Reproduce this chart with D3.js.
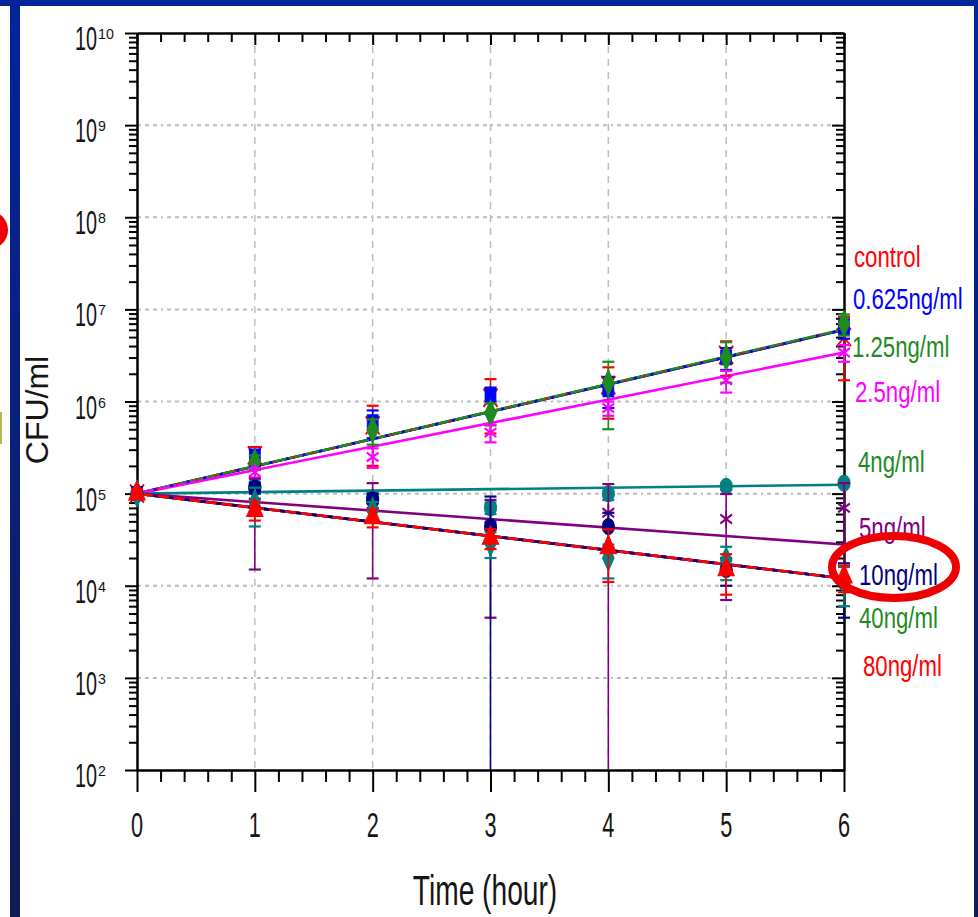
<!DOCTYPE html>
<html>
<head>
<meta charset="utf-8">
<title>CFU/ml vs time</title>
<script src="https://d3js.org/d3.v7.min.js"></script>
<style>
  body { margin: 0; background: #fff; }
  svg { display: block; }
  text { font-family: "Liberation Sans", Arial, sans-serif; fill: #151515; }
</style>
</head>
<body>
<svg id="chart" width="978" height="917"></svg>
<script>
// ---- data ----
var times = [0, 1, 2, 3, 4, 5, 6];
var xTicks = [0, 1, 2, 3, 4, 5, 6];
var yDecades = [2, 3, 4, 5, 6, 7, 8, 9, 10];

var seriesNames = ["control", "0.625ng/ml", "1.25ng/ml", "2.5ng/ml", "4ng/ml", "5ng/ml", "10ng/ml", "40ng/ml", "80ng/ml"];

var controlMean = [1e5, 2.6e5, 5.5e5, 1.1e6, 1.5e6, 3.2e6, 5.0e6];
var controlSd   = [1.2e4, 6e4, 3.5e5, 6.5e5, 8.5e5, 1.3e6, 3.3e6];
var c0625Mean   = [1e5, 2.5e5, 6.0e5, 1.2e6, 1.35e6, 3.0e6, 6.3e6];
var c0625Sd     = [1e4, 5e4, 2e5, 2e5, 5e5, 8e5, 1.5e6];
var c125Mean    = [1e5, 2.2e5, 4.9e5, 7.5e5, 1.6e6, 3.0e6, 7.0e6];
var c125Sd      = [1e4, 4e4, 1.5e5, 2e5, 1.1e6, 1.4e6, 1.8e6];
var c25Mean     = [1e5, 1.7e5, 2.5e5, 4.6e5, 8.5e5, 1.7e6, 3.4e6];
var c25Sd       = [1e4, 2e4, 6e4, 1e5, 1.5e5, 4.5e5, 7e5];
var c4Mean      = [1e5, 1.2e5, 9e4, 7e4, 1e5, 1.2e5, 1.3e5];
var c4Sd        = [1e4, 1.5e4, 1e4, 1e4, 1.5e4, 1e4, 1e4];
var c5Mean      = [1e5, 8e4, 7.1e4, 4.5e4, 6.2e4, 5.3e4, 7e4];
var c5Sd        = [1e4, 6.5e4, 5.9e4, 4.05e4, 6.5e4, 4.6e4, 6e4];
var c10Mean     = [1e5, 1.15e5, 8.5e4, 4.4e4, 4.4e4, 1.5e4, 1.1e4];
var c10Sd       = [1e4, 1.5e4, 1.5e4, 4.9e4, 1.8e4, 5e3, 6.5e3];
var c40Mean     = [1e5, 8e4, 6.6e4, 2.9e4, 2e4, 1.9e4, 1.1e4];
var c40Sd       = [1e4, 3.6e4, 1.5e4, 9e3, 8e3, 7.5e3, 5e3];
var c80Mean     = [1e5, 6.6e4, 5.5e4, 3.3e4, 2.6e4, 1.5e4, 1.25e4];
var c80Sd       = [1.2e4, 1.5e4, 1.2e4, 8e3, 1.5e4, 7e3, 4e3];

// fitted exponential lines: start at t=0, end at t=6
var fitStart = [1e5, 1e5, 1e5, 1e5, 1e5, 1e5, 1e5, 1e5, 1e5];
var fitEnd   = [6.0e6, 6.0e6, 6.1e6, 3.4e6, 1.25e5, 2.8e4, 1.2e4, 1.2e4, 1.2e4];

// ---- styles ----
var lineColors  = ["#ff0000", "#0000ff", "#1f8a1f", "#ff00ff", "#008080", "#800080", "#000080", "#008080", "#ff0000"];
var labelColors = ["#ff0000", "#0000ff", "#1f8a1f", "#ff00ff", "#1f8a1f", "#800080", "#000080", "#1f8a1f", "#ff0000"];
var markerTypes = [d3.symbolTimes, d3.symbolSquare, d3.symbolDiamond, d3.symbolAsterisk, d3.symbolCircle,
                   d3.symbolAsterisk, d3.symbolCircle, d3.symbolDiamond, d3.symbolTriangle];
var markerStroked = [true, false, false, true, false, true, false, false, false];
var lineDash = ["2,18", "3,14", null, null, null, null, "5,11", null, null];
var legendPos = [[854, 267], [853, 309], [852, 357], [855, 402], [858, 472], [859, 538], [859, 585], [859, 628], [863, 676]];

var means = [controlMean, c0625Mean, c125Mean, c25Mean, c4Mean, c5Mean, c10Mean, c40Mean, c80Mean];
var sds   = [controlSd, c0625Sd, c125Sd, c25Sd, c4Sd, c5Sd, c10Sd, c40Sd, c80Sd];

var series = seriesNames.map(function (name, i) {
  return {
    name: name, i: i,
    points: times.map(function (t, j) { return { t: t, m: means[i][j], s: sds[i][j] }; }),
    fit: [[0, fitStart[i]], [6, fitEnd[i]]]
  };
});

var svg = d3.select("#chart");

// ---- slide frame ----
var defs = svg.append("defs");
var grad = defs.append("linearGradient").attr("id", "bar").attr("x1", 0).attr("y1", 0).attr("x2", 0).attr("y2", 1);
grad.append("stop").attr("offset", "0%").attr("stop-color", "#02249c");
grad.append("stop").attr("offset", "100%").attr("stop-color", "#111c55");
svg.append("rect").attr("x", 0).attr("y", 0).attr("width", 978).attr("height", 917).attr("fill", "#fff");
svg.append("rect").attr("x", 0).attr("y", 0).attr("width", 978).attr("height", 6).attr("fill", "#02249c");
svg.append("rect").attr("x", 10).attr("y", 0).attr("width", 10).attr("height", 917).attr("fill", "url(#bar)");
svg.append("rect").attr("x", 974).attr("y", 0).attr("width", 4).attr("height", 917).attr("fill", "url(#bar)");
svg.append("circle").attr("cx", -11).attr("cy", 230).attr("r", 19).attr("fill", "#ee0000");
svg.append("rect").attr("x", 0).attr("y", 412).attr("width", 2).attr("height", 32).attr("fill", "#b9b650");

// ---- scales ----
var x = d3.scaleLinear().domain([0, 6]).range([137, 844]);
var y = d3.scaleLog().domain([1e2, 1e10]).range([770, 33]);

var decades = yDecades.map(function (p) { return Math.pow(10, p); });
var minorY = [];
yDecades.slice(0, -1).forEach(function (p) {
  for (var k = 2; k <= 9; k++) minorY.push(k * Math.pow(10, p));
});
var minorX = d3.range(0, 6.001, 0.2).map(function (v) { return +v.toFixed(1); })
  .filter(function (v) { return xTicks.indexOf(v) < 0; });

// ---- grid ----
svg.append("g").selectAll("line").data(decades.slice(1, -1)).join("line")
  .attr("x1", x(0)).attr("x2", x(6)).attr("y1", function (d) { return y(d); }).attr("y2", function (d) { return y(d); })
  .attr("stroke", "#bdbdbd").attr("stroke-width", 2).attr("stroke-dasharray", "4,4,4,4,4,4,2,4");
svg.append("g").selectAll("line").data(xTicks.slice(1, -1)).join("line")
  .attr("x1", function (d) { return x(d); }).attr("x2", function (d) { return x(d); })
  .attr("y1", y(1e10)).attr("y2", y(1e2))
  .attr("stroke", "#bdbdbd").attr("stroke-width", 1.5).attr("stroke-dasharray", "7,6");

// ---- axes ----
function styleAxis(g) {
  g.selectAll("text").remove();
  g.select(".domain").attr("stroke", "#000").attr("stroke-width", 2);
  g.selectAll(".tick line").attr("stroke", "#000").attr("stroke-width", 2);
}
svg.append("g").attr("transform", "translate(" + x(0) + ",0)")
  .call(d3.axisLeft(y).tickValues(minorY).tickSize(8).tickSizeOuter(0)).call(styleAxis);
svg.append("g").attr("transform", "translate(" + x(0) + ",0)")
  .call(d3.axisLeft(y).tickValues(decades).tickSize(12).tickSizeOuter(0)).call(styleAxis);
svg.append("g").attr("transform", "translate(" + x(6) + ",0)")
  .call(d3.axisRight(y).tickValues(minorY).tickSize(-8).tickSizeOuter(0)).call(styleAxis);
svg.append("g").attr("transform", "translate(" + x(6) + ",0)")
  .call(d3.axisRight(y).tickValues(decades).tickSize(-12).tickSizeOuter(0)).call(styleAxis);
svg.append("g").attr("transform", "translate(0," + y(1e10) + ")")
  .call(d3.axisTop(x).tickValues(minorX).tickSize(-9).tickSizeOuter(0)).call(styleAxis);
svg.append("g").attr("transform", "translate(0," + y(1e10) + ")")
  .call(d3.axisTop(x).tickValues(xTicks).tickSize(-12).tickSizeOuter(0)).call(styleAxis);
svg.append("g").attr("transform", "translate(0," + y(1e2) + ")")
  .call(d3.axisBottom(x).tickValues(minorX).tickSize(12).tickSizeOuter(0)).call(styleAxis);
svg.append("g").attr("transform", "translate(0," + y(1e2) + ")")
  .call(d3.axisBottom(x).tickValues(xTicks).tickSize(22).tickSizeOuter(0)).call(styleAxis);

// tick labels (condensed like the original)
var yl = svg.append("g");
yDecades.forEach(function (p) {
  var ty = y(Math.pow(10, p));
  yl.append("text").attr("transform", "translate(97," + (ty + 17) + ") scale(0.6,1)")
    .attr("text-anchor", "end").attr("font-size", 33).text("10");
  yl.append("text").attr("transform", "translate(98," + (ty + 6) + ") scale(0.95,1)")
    .attr("font-size", 15).text(p);
});
svg.append("g").selectAll("text").data(xTicks).join("text")
  .attr("transform", function (d) { return "translate(" + x(d) + ",837) scale(0.62,1)"; })
  .attr("text-anchor", "middle").attr("font-size", 35).text(function (d) { return d; });

svg.append("text").attr("transform", "translate(485,905) scale(0.67,1)")
  .attr("text-anchor", "middle").attr("font-size", 42).text("Time (hour)");
svg.append("text").attr("transform", "translate(48,410) rotate(-90)")
  .attr("text-anchor", "middle").attr("font-size", 32).text("CFU/ml");

// ---- fitted lines ----
var line = d3.line().x(function (d) { return x(d[0]); }).y(function (d) { return y(d[1]); });
var plot = svg.append("g");
var solidOrder = [0, 1, 7, 6, 2, 3, 4, 5, 8];
solidOrder.forEach(function (i) {
  plot.append("path").attr("d", line(series[i].fit)).attr("fill", "none")
    .attr("stroke", lineColors[i]).attr("stroke-width", 2.6);
});
series.forEach(function (s, i) {
  if (!lineDash[i]) return;
  plot.append("path").attr("d", line(s.fit)).attr("fill", "none")
    .attr("stroke", lineColors[i]).attr("stroke-width", 2.6).attr("stroke-dasharray", lineDash[i]);
});

// ---- error bars and markers ----
var bottom = y.domain()[0];
series.forEach(function (s, i) {
  var g = plot.append("g");
  var col = lineColors[i];
  s.points.forEach(function (p) {
    var hi = p.m + p.s, lo = p.m - p.s;
    var px = x(p.t);
    var yHi = y(hi), yLo = lo > bottom ? y(lo) : y(bottom);
    g.append("line").attr("x1", px).attr("x2", px).attr("y1", yHi).attr("y2", yLo)
      .attr("stroke", col).attr("stroke-width", 1.6);
    g.append("line").attr("x1", px - 6).attr("x2", px + 6).attr("y1", yHi).attr("y2", yHi)
      .attr("stroke", col).attr("stroke-width", 2.2);
    if (lo > bottom) {
      g.append("line").attr("x1", px - 6).attr("x2", px + 6).attr("y1", yLo).attr("y2", yLo)
        .attr("stroke", col).attr("stroke-width", 2.2);
    }
  });
  var sym = d3.symbol().type(markerTypes[i]).size(markerStroked[i] ? 130 : 120);
  g.selectAll("path.mk").data(s.points).join("path").attr("class", "mk")
    .attr("d", sym)
    .attr("transform", function (p) { return "translate(" + x(p.t) + "," + y(p.m) + ") scale(1,1.3)"; })
    .attr("fill", markerStroked[i] ? "none" : col)
    .attr("stroke", col).attr("stroke-width", markerStroked[i] ? 1.8 : 0.8);
});

// ---- right-hand labels ----
svg.append("g").selectAll("text").data(series).join("text")
  .attr("transform", function (d, i) { return "translate(" + legendPos[i][0] + "," + legendPos[i][1] + ") scale(0.74,1)"; })
  .attr("font-size", 30).attr("fill", function (d, i) { return labelColors[i]; })
  .style("fill", function (d, i) { return labelColors[i]; })
  .text(function (d) { return d.name; });

// annotation ellipse round 10ng/ml
svg.append("ellipse").attr("cx", 894).attr("cy", 567).attr("rx", 62).attr("ry", 31)
  .attr("fill", "none").attr("stroke", "#ee0000").attr("stroke-width", 8);
</script>
</body>
</html>
